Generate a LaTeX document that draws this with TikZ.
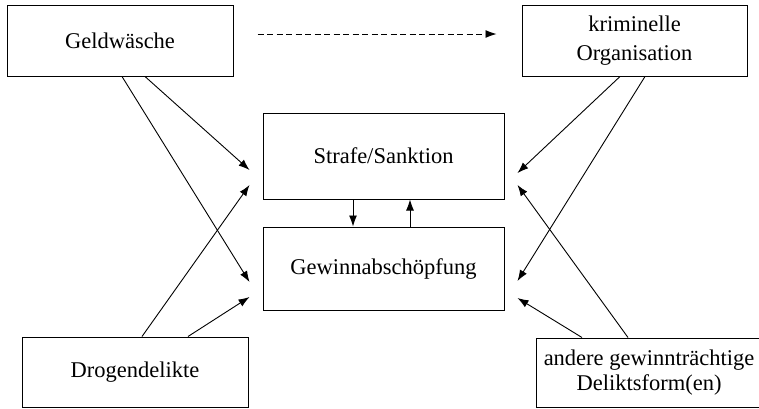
\documentclass[tikz,border=0pt]{standalone}
\usepackage{fontspec}
\setmainfont{Liberation Serif}
\usetikzlibrary{arrows.meta}
\begin{document}
\begin{tikzpicture}[x=1pt,y=-1pt,
  box/.style={draw,line width=1pt,inner sep=0pt,align=center,
    font=\fontsize{22.5}{29}\selectfont},
  conn/.style={line width=0.9pt,-{Latex[length=11pt,width=8pt]}},
  dconn/.style={conn,dash pattern=on 6pt off 3.5pt}]
\useasboundingbox (0,0) rectangle (759,408);
\node[box,minimum width=226pt,minimum height=71pt] (geld) at (120,40.5) {Geldwäsche};
\node[box,minimum width=225pt,minimum height=71pt] (krim) at (634.5,40.5) {kriminelle\\Organisation};
\node[box,minimum width=241pt,minimum height=86pt] (strafe) at (383.5,156) {Strafe/Sanktion};
\node[box,minimum width=241pt,minimum height=83pt] (gewinn) at (383.5,268.5) {Gewinnabschöpfung};
\node[box,minimum width=226pt,minimum height=70pt] (drogen) at (135,372) {Drogendelikte};
\node[box,minimum width=226pt,minimum height=69pt,font=\fontsize{22.5}{25.5}\selectfont] (andere) at (649,372.5) {\raisebox{-3pt}{andere gewinnträchtige}\\\raisebox{-3pt}{Deliktsform(en)}};
% dashed
\draw[dconn] ([shift={(24,-6.5)}]geld.east) -- ([shift={(-25,-6.5)}]krim.west);
% Geldwäsche
\draw[conn] ([shift={(2,0)}]geld.south) -- ([shift={(-13,13.5)}]gewinn.west);
\draw[conn] ([shift={(25,0)}]geld.south) -- ([shift={(-13,14)}]strafe.west);
% Drogendelikte
\draw[conn] ([shift={(7,0)}]drogen.north) -- ([shift={(-13,29)}]strafe.west);
\draw[conn] ([shift={(53,0)}]drogen.north) -- ([shift={(-13,28.5)}]gewinn.west);
% kriminelle Organisation
\draw[conn] ([shift={(-14.5,0)}]krim.south) -- ([shift={(13,17)}]strafe.east);
\draw[conn] ([shift={(10.5,0)}]krim.south) -- ([shift={(13,12.5)}]gewinn.east);
% andere
\draw[conn] ([shift={(-21,0)}]andere.north) -- ([shift={(13,29)}]strafe.east);
\draw[conn] ([shift={(-67,0)}]andere.north) -- ([shift={(13,29.5)}]gewinn.east);
% between
\draw[conn] ([shift={(-30.5,0)}]strafe.south) -- ([shift={(-30.5,0)}]gewinn.north);
\draw[conn] ([shift={(26.5,0)}]gewinn.north) -- ([shift={(26.5,0)}]strafe.south);
\end{tikzpicture}
\end{document}
